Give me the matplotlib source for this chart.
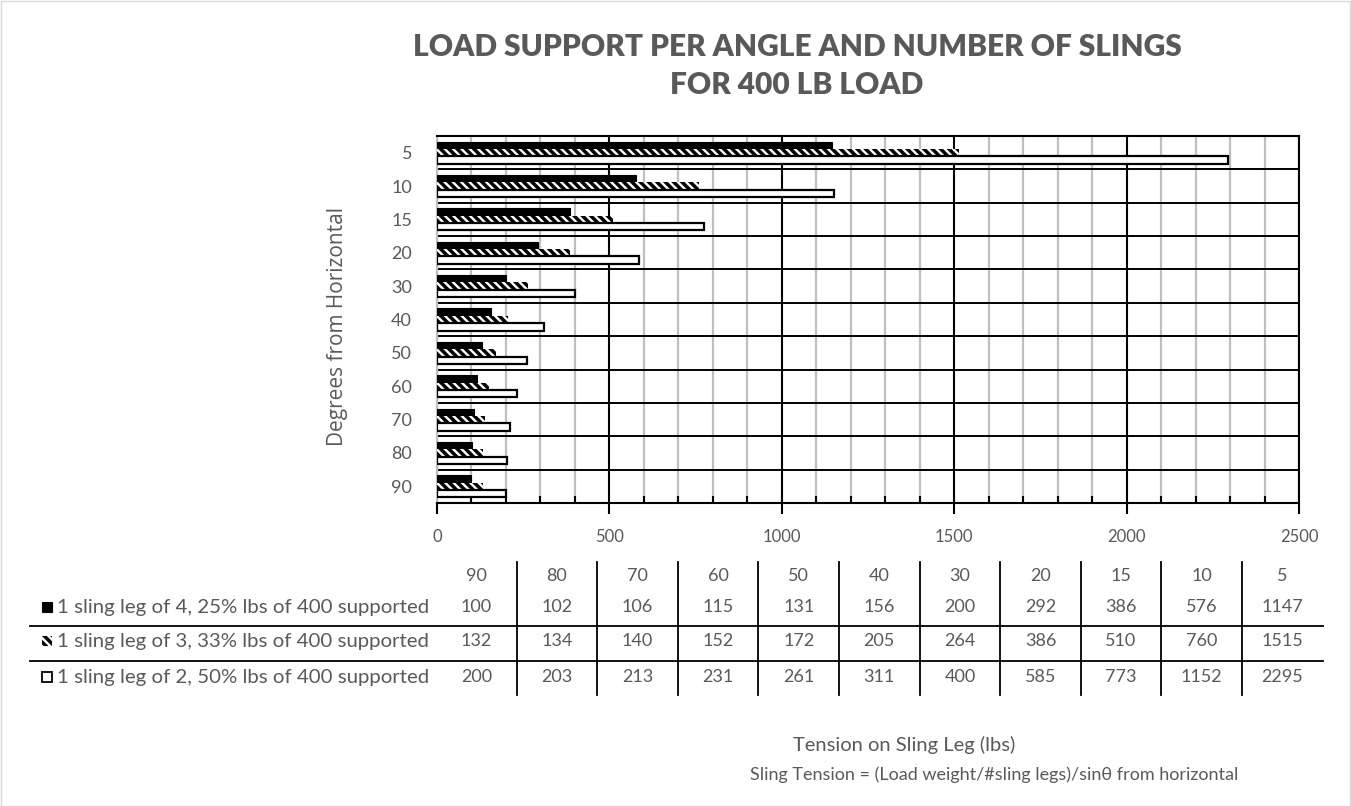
import numpy as np
import matplotlib
matplotlib.use("Agg")
import matplotlib.pyplot as plt
from matplotlib.patches import Rectangle
from matplotlib.lines import Line2D
from matplotlib.ticker import MultipleLocator

# Data (lbs of tension per sling leg, 400 lb load)
angles = [5, 10, 15, 20, 30, 40, 50, 60, 70, 80, 90]
four_legs = [1147, 576, 386, 292, 200, 156, 131, 115, 106, 102, 100]
three_legs = [1515, 760, 510, 386, 264, 205, 172, 152, 140, 134, 132]
two_legs = [2295, 1152, 773, 585, 400, 311, 261, 231, 213, 203, 200]
series_labels = [
    "1 sling leg of 4, 25% lbs of 400 supported",
    "1 sling leg of 3, 33% lbs of 400 supported",
    "1 sling leg of 2, 50% lbs of 400 supported",
]

W, H = 1351, 806
GRAY = "#595959"
FONT = "Lato"


def fx(x):
    return x / W


def fy(y):
    return 1 - y / H


plt.rcParams["font.family"] = [FONT, "DejaVu Sans"]
plt.rcParams["hatch.linewidth"] = 2.5

fig = plt.figure(figsize=(W / 100, H / 100), dpi=100)
ax = fig.add_axes([fx(437), fy(503), fx(1299) - fx(437), fy(136) - fy(503)])

pos = np.arange(len(angles))
h = 0.22
ax.barh(pos - h, four_legs, height=h, color="black", edgecolor="black", linewidth=0.8, zorder=3)
ax.barh(pos, three_legs, height=h, color="white", edgecolor="black", hatch="\\\\\\\\",
        linewidth=0, zorder=3)
ax.barh(pos + h, two_legs, height=h, color="white", edgecolor="black", linewidth=1.6, zorder=3)

ax.set_xlim(0, 2500)
ax.set_ylim(len(angles) - 0.5, -0.5)
ax.set_yticks(pos)
ax.set_yticklabels([str(a) for a in angles])
ax.set_yticks(np.arange(len(angles) + 1) - 0.5, minor=True)
ax.xaxis.set_major_locator(MultipleLocator(500))
ax.xaxis.set_minor_locator(MultipleLocator(100))

ax.grid(which="minor", axis="x", color="#bfbfbf", linewidth=1.6, zorder=0)
ax.grid(which="major", axis="x", color="black", linewidth=1.5, zorder=1)
ax.grid(which="minor", axis="y", color="black", linewidth=1.4, zorder=1)
ax.set_axisbelow(True)

for s in ["top", "right", "bottom"]:
    ax.spines[s].set_color("black")
    ax.spines[s].set_linewidth(1.5)
ax.spines["left"].set_color("#bfbfbf")
ax.spines["left"].set_linewidth(1.6)

ax.tick_params(axis="x", which="major", direction="out", length=8, width=1.5,
               color="black", labelcolor=GRAY, labelsize=12, pad=11)
ax.tick_params(axis="x", which="minor", direction="in", length=5, width=1.5, color="black")
ax.tick_params(axis="y", which="both", length=0, labelcolor=GRAY, labelsize=13, pad=18)

# Titles
fig.text(fx(797), fy(47), "LOAD SUPPORT PER ANGLE AND NUMBER OF SLINGS", ha="center", va="center",
         fontsize=21.5, fontweight="heavy", color=GRAY)
fig.text(fx(797), fy(85), "FOR 400 LB LOAD", ha="center", va="center",
         fontsize=21.5, fontweight="heavy", color=GRAY)
fig.text(fx(338), fy(327), "Degrees from Horizontal", rotation=90, ha="center", va="center",
         fontsize=15, color=GRAY, family=["Open Sans", "DejaVu Sans"])
fig.text(fx(904), fy(745), "Tension on Sling Leg (lbs)", ha="center", va="center",
         fontsize=14.5, color=GRAY)
fig.text(fx(994), fy(775), "Sling Tension = (Load weight/#sling legs)/sin\u03b8 from horizontal",
         ha="center", va="center", fontsize=13, color=GRAY)

# Data table below the chart
col_left, col_w = 436, 80.6
row_y = [576, 607, 641, 677]
n = len(angles)
table_rows = [angles[::-1], four_legs[::-1], three_legs[::-1], two_legs[::-1]]
for r, vals in enumerate(table_rows):
    for i, v in enumerate(vals):
        fig.text(fx(col_left + col_w * (i + 0.5)), fy(row_y[r]), str(v), ha="center", va="center",
                 fontsize=13, color=GRAY)
for k in range(1, n):
    x = fx(col_left + col_w * k)
    fig.add_artist(Line2D([x, x], [fy(562), fy(695)], color="black", linewidth=1.3))
for y in [626, 661]:
    fig.add_artist(Line2D([fx(30), fx(col_left + col_w * n)], [fy(y), fy(y)], color="black",
                          linewidth=1.3))

# Legend keys + labels
key_styles = [
    dict(facecolor="black", edgecolor="black", linewidth=0.8),
    dict(facecolor="white", edgecolor="black", hatch="\\\\\\\\", linewidth=0),
    dict(facecolor="white", edgecolor="black", linewidth=1.3),
]
for r, (lab, st) in enumerate(zip(series_labels, key_styles)):
    yc = row_y[r + 1]
    fig.add_artist(Rectangle((fx(42), fy(yc + 5)), fx(10), 10 / H, transform=fig.transFigure, **st))
    fig.text(fx(57), fy(yc), lab, ha="left", va="center", fontsize=14.7, color=GRAY)

# Chart border
fig.add_artist(Rectangle((0.5 / W, 0.5 / H), 1 - 1.5 / W, 1 - 1.5 / H, transform=fig.transFigure,
                         fill=False, edgecolor="#d9d9d9", linewidth=1))

fig.savefig("out.png", dpi=100)
